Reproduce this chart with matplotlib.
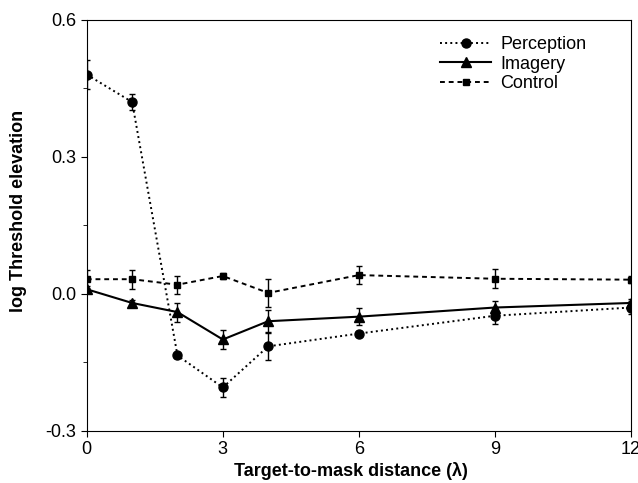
import matplotlib.pyplot as plt
from matplotlib.ticker import MultipleLocator

distance = [0, 1, 2, 3, 4, 6, 9, 12]

perception = [0.48, 0.42, -0.135, -0.205, -0.115, -0.087, -0.048, -0.03]
perception_err = [0.032, 0.018, 0.006, 0.02, 0.03, 0.006, 0.017, 0.015]

imagery = [0.01, -0.02, -0.04, -0.10, -0.06, -0.05, -0.03, -0.02]
imagery_err = [0.008, 0.007, 0.021, 0.02, 0.024, 0.019, 0.015, 0.008]

control = [0.032, 0.032, 0.02, 0.039, 0.002, 0.041, 0.033, 0.031]
control_err = [0.02, 0.021, 0.02, 0.006, 0.031, 0.02, 0.021, 0.008]

plt.rcParams['font.family'] = ['Liberation Sans', 'DejaVu Sans']

fig = plt.figure(figsize=(6.38, 4.83), dpi=100)
ax = fig.add_axes([0.136, 0.108, 0.853, 0.851])

ax.errorbar(distance, perception, yerr=perception_err, color='black', ls=':', lw=1.4,
            marker='o', ms=6.5, capsize=2.5, elinewidth=1, label='Perception')
ax.errorbar(distance, imagery, yerr=imagery_err, color='black', ls='-', lw=1.5,
            marker='^', ms=6.5, capsize=2.5, elinewidth=1, label='Imagery')
ax.errorbar(distance, control, yerr=control_err, color='black', ls=(0, (2.5, 2)), lw=1.4,
            marker='s', ms=5, capsize=2.5, elinewidth=1, label='Control')

ax.set_xlim(0, 12)
ax.set_ylim(-0.3, 0.6)
ax.set_xticks([0, 3, 6, 9, 12])
ax.set_yticks([-0.3, 0.0, 0.3, 0.6])
ax.set_yticklabels(['-0.3', '0.0', '0.3', '0.6'])
ax.yaxis.set_minor_locator(MultipleLocator(0.15))
ax.tick_params(axis='both', which='major', direction='out', length=4, labelsize=13)
ax.tick_params(axis='y', which='minor', direction='out', length=3)

ax.set_xlabel('Target-to-mask distance (\u03bb)', fontsize=13, fontweight='bold')
ax.set_ylabel('log Threshold elevation', fontsize=13, fontweight='bold')
ax.xaxis.set_label_coords(0.485, -0.075)
ax.yaxis.set_label_coords(-0.11, 0.535)

handles, labels = ax.get_legend_handles_labels()
handles = [h[0] for h in handles]
ax.legend(handles, labels, loc='upper left', frameon=False, fontsize=13,
          handlelength=2.8, handletextpad=0.5, labelspacing=0.15,
          bbox_to_anchor=(0.62, 1.0))

fig.savefig('out.png', dpi=100)
